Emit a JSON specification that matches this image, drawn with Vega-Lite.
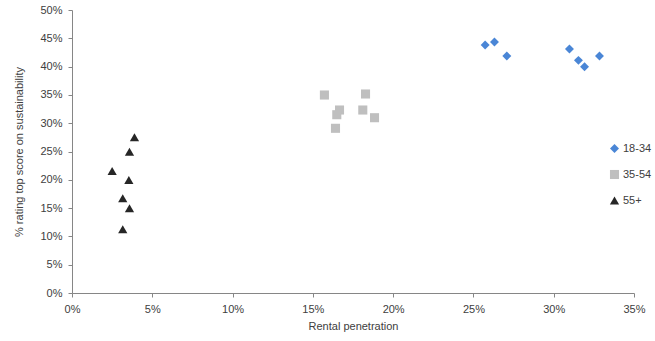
{
  "$schema": "https://vega.github.io/schema/vega-lite/v6.json",
  "width": 562,
  "height": 283,
  "autosize": {"type": "none"},
  "padding": {"left": 72, "top": 10, "right": 21, "bottom": 48},
  "background": "white",
  "config": {
    "view": {"stroke": null},
    "font": "Liberation Sans",
    "axis": {
      "grid": false,
      "domainColor": "#868686",
      "tickColor": "#868686",
      "tickSize": 4,
      "labelColor": "#404040",
      "titleColor": "#404040",
      "labelFontSize": 11,
      "titleFontSize": 11,
      "titleFontWeight": "normal",
      "labelFlush": false
    }
  },
  "data": {
    "values": [
      {"group": "18-34", "rental": 25.73, "score": 43.8},
      {"group": "18-34", "rental": 26.31, "score": 44.35},
      {"group": "18-34", "rental": 27.08, "score": 41.87},
      {"group": "18-34", "rental": 30.98, "score": 43.1},
      {"group": "18-34", "rental": 31.54, "score": 41.1},
      {"group": "18-34", "rental": 31.92, "score": 39.98},
      {"group": "18-34", "rental": 32.85, "score": 41.87},
      {"group": "35-54", "rental": 15.72, "score": 34.98},
      {"group": "35-54", "rental": 18.28, "score": 35.16},
      {"group": "35-54", "rental": 16.66, "score": 32.33},
      {"group": "35-54", "rental": 16.49, "score": 31.5},
      {"group": "35-54", "rental": 18.11, "score": 32.33},
      {"group": "35-54", "rental": 18.84, "score": 30.97},
      {"group": "35-54", "rental": 16.41, "score": 29.1},
      {"group": "55+", "rental": 3.89, "score": 27.5},
      {"group": "55+", "rental": 3.58, "score": 24.97},
      {"group": "55+", "rental": 2.5, "score": 21.55},
      {"group": "55+", "rental": 3.54, "score": 19.96},
      {"group": "55+", "rental": 3.16, "score": 16.73},
      {"group": "55+", "rental": 3.58, "score": 14.96},
      {"group": "55+", "rental": 3.16, "score": 11.25}
    ]
  },
  "mark": {"type": "point", "filled": true, "opacity": 1},
  "encoding": {
    "x": {
      "field": "rental",
      "type": "quantitative",
      "scale": {"domain": [0, 35], "nice": false, "zero": true},
      "axis": {
        "title": "Rental penetration",
        "values": [0, 5, 10, 15, 20, 25, 30, 35],
        "labelExpr": "datum.value + '%'",
        "labelPadding": 6,
        "titlePadding": 6
      }
    },
    "y": {
      "field": "score",
      "type": "quantitative",
      "scale": {"domain": [0, 50], "nice": false},
      "axis": {
        "title": "% rating top score on sustainability",
        "values": [0, 5, 10, 15, 20, 25, 30, 35, 40, 45, 50],
        "labelExpr": "datum.value + '%'",
        "labelPadding": 6,
        "titlePadding": 15
      }
    },
    "color": {
      "field": "group",
      "type": "nominal",
      "scale": {"domain": ["18-34", "35-54", "55+"], "range": ["#4A86D6", "#BFBFBF", "#262626"]},
      "legend": {
        "title": null,
        "orient": "none",
        "legendX": 537,
        "legendY": 133,
        "labelFontSize": 11,
        "labelColor": "#404040",
        "rowPadding": 14,
        "symbolSize": 64,
        "labelOffset": 3
      }
    },
    "shape": {
      "field": "group",
      "type": "nominal",
      "scale": {"domain": ["18-34", "35-54", "55+"], "range": ["diamond", "square", "triangle-up"]}
    },
    "size": {
      "field": "group",
      "type": "nominal",
      "scale": {"domain": ["18-34", "35-54", "55+"], "range": [80, 85, 75]},
      "legend": null
    }
  }
}
